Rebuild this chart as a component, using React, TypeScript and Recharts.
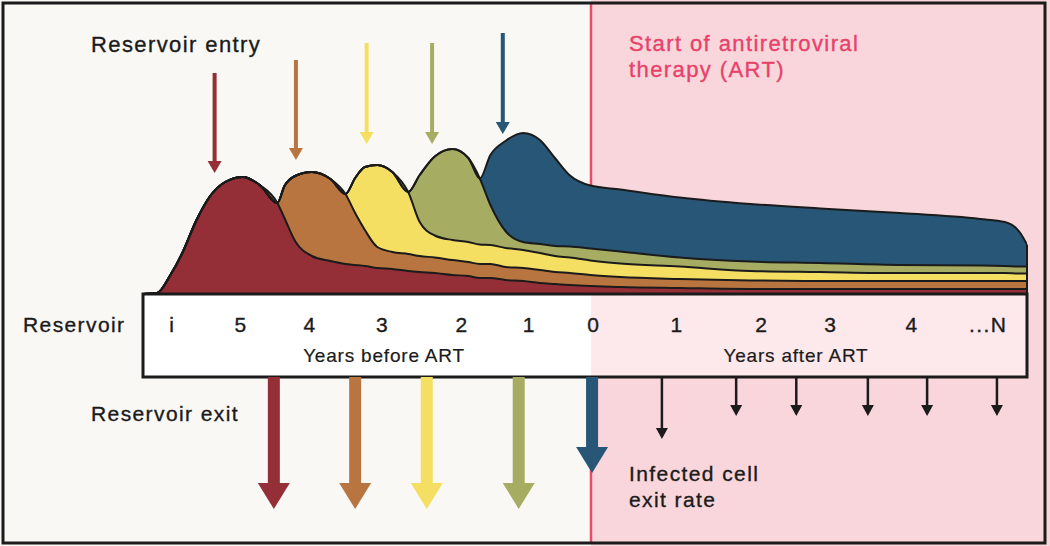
import React from 'react'
import { ComposedChart, Area, XAxis, YAxis } from 'recharts'

// position along the reservoir bar: 0 = left edge, 100 = right edge
const positions = [
  0, 1.6, 3.1, 4.5, 6.0, 7.6, 9.3, 11.3, 13.2, 15.2, 16.0, 17.2, 19.1, 21.2, 22.9, 24.0, 25.1, 26.5, 28.2, 30.0,
  31.3, 33.0, 35.0, 36.8, 38.1, 39.3, 41.0, 43.0, 44.9, 46.6, 48.3, 50.6, 54.0, 60.7, 68.7, 76.6, 85.6, 94.7, 97.5, 99.2, 100,
]

// size of each infected cell cohort (stacked, same units as the y axis)
const cohort5 = [
  0, 1, 19, 42, 73, 98, 112, 117, 109, 91, 76, 53, 38, 33, 30, 29, 28, 26, 25, 23,
  22, 21, 19, 18, 16, 16, 14, 13, 11, 10, 9, 8, 7, 6, 5, 5, 5, 5, 5, 5, 5,
]
const cohort4 = [
  0, 0, 0, 0, 0, 0, 0, 0, 0, 0, 32, 65, 84, 82, 70, 52, 36, 21, 17, 17,
  16, 15.5, 15, 14, 14, 14, 13, 13, 13, 12, 12, 11, 10, 9, 8.5, 8, 8, 8, 8, 8, 8,
]
const cohort3 = [
  0, 0, 0, 0, 0, 0, 0, 0, 0, 0, 0, 0, 0, 0, 0, 35, 63, 82, 80, 62,
  34, 22, 20, 20, 19.5, 19, 19, 18, 17, 16, 15.5, 14.5, 13.5, 12.5, 9.5, 9, 8, 8, 8, 7.5, 7.5,
]
const cohort2 = [
  0, 0, 0, 0, 0, 0, 0, 0, 0, 0, 0, 0, 0, 0, 0, 0, 0, 0, 0, 0,
  47, 79, 91, 84, 66, 40, 17, 8, 9, 10, 11, 12, 12, 9, 9.5, 9, 8, 7.5, 7, 7, 7,
]
const cohort1 = [
  0, 0, 0, 0, 0, 0, 0, 0, 0, 0, 0, 0, 0, 0, 0, 0, 0, 0, 0, 0,
  0, 0, 0, 0, 0, 50, 90, 109, 104, 88, 71, 63, 62, 60, 57.5, 54.5, 52, 46.5, 44, 34, 22,
]

const tickPositions = [3.3, 11.1, 18.9, 27.1, 36.1, 43.7, 51.0, 60.4, 70.0, 77.8, 87.0, 95.6]
const tickLabels = ['i', '5', '4', '3', '2', '1', '0', '1', '2', '3', '4', '...N']

const entryArrows = [8.1, 17.3, 25.3, 32.7, 40.7]
const exitArrows = [14.8, 24.0, 32.1, 42.5, 50.8]
const artExitArrows = [58.7, 67.1, 73.9, 82.0, 88.7, 96.6]

const COLORS = ['#942e37', '#b9753f', '#f5df63', '#a6ad63', '#275677']
const SERIES = ['c5', 'c4', 'c3', 'c2', 'c1']

const rows = positions.map((t, i) => ({
  t,
  c5: cohort5[i],
  c4: cohort4[i],
  c3: cohort3[i],
  c2: cohort2[i],
  c1: cohort1[i],
}))

// layout
const BAR_X = 143
const BAR_W = 884
const BASE_Y = 294
const BAR_H = 83
const PLOT_H = 220
const ART_X = 591
const px = (t: number) => BAR_X + (t * BAR_W) / 100

const FONT = '"Liberation Sans", Arial, sans-serif'
const INK = '#1b1b1b'

const textStyle = { fontFamily: FONT, fill: INK, letterSpacing: 1.4, stroke: INK, strokeWidth: 0.35 }
const pinkText = { ...textStyle, fill: '#e8416a', stroke: '#e8416a' }

function DownArrow({ x, y1, y2, shaft, head, headLen, color }: any) {
  return (
    <g fill={color}>
      <rect x={x - shaft / 2} y={y1} width={shaft} height={y2 - headLen - y1 + 1} />
      <polygon points={`${x - head / 2},${y2 - headLen} ${x + head / 2},${y2 - headLen} ${x},${y2}`} />
    </g>
  )
}

function Tick(props: any) {
  const { x, payload } = props
  const i = tickPositions.indexOf(payload.value)
  return (
    <text x={x} y={PLOT_H + 38} textAnchor="middle" fontSize={21} style={textStyle}>
      {tickLabels[i]}
    </text>
  )
}

const entryTops = [73, 60, 43, 43, 33]
const entryTips = [173, 160, 144, 144, 134]

export default function App() {
  const last = rows[rows.length - 1]
  const stackEnd = last.c5 + last.c4 + last.c3 + last.c2 + last.c1

  return (
    <div style={{ position: 'absolute', left: 0, top: 0, width: 1050, height: 546, overflow: 'hidden', background: '#fff' }}>
      <svg width={1050} height={546} style={{ position: 'absolute', left: 0, top: 0 }}>
        <rect x={0} y={0} width={1050} height={546} fill="#f9f8f4" />
        <rect x={ART_X} y={0} width={1050 - ART_X} height={546} fill="#f8d6db" />
        <line x1={ART_X} y1={3} x2={ART_X} y2={543} stroke="#ec4a6c" strokeWidth={2.5} />
        <rect x={BAR_X} y={BASE_Y} width={ART_X - BAR_X} height={BAR_H} fill="#ffffff" />
        <rect x={ART_X} y={BASE_Y} width={BAR_X + BAR_W - ART_X} height={BAR_H} fill="#fde8ec" />
      </svg>

      <div style={{ position: 'absolute', left: BAR_X, top: BASE_Y - PLOT_H }}>
        <ComposedChart width={BAR_W} height={PLOT_H + 60} data={rows} margin={{ top: 0, right: 0, bottom: 0, left: 0 }}>
          <XAxis
            dataKey="t"
            type="number"
            domain={[0, 100]}
            ticks={tickPositions}
            interval={0}
            height={60}
            axisLine={false}
            tickLine={false}
            tick={<Tick />}
          />
          <YAxis hide domain={[0, PLOT_H]} />
          {SERIES.map((key, i) => (
            <Area
              key={'fill-' + key}
              dataKey={key}
              stackId="fill"
              type="monotone"
              fill={COLORS[i]}
              fillOpacity={1}
              stroke="none"
              isAnimationActive={false}
              dot={false}
              activeDot={false}
            />
          ))}
          {SERIES.map((key) => (
            <Area
              key={'edge-' + key}
              dataKey={key}
              stackId="edge"
              type="monotone"
              fill="none"
              stroke={INK}
              strokeWidth={2}
              isAnimationActive={false}
              dot={false}
              activeDot={false}
            />
          ))}
        </ComposedChart>
      </div>

      <svg width={1050} height={546} style={{ position: 'absolute', left: 0, top: 0, pointerEvents: 'none' }}>
        <line x1={BAR_X + BAR_W} y1={BASE_Y - stackEnd} x2={BAR_X + BAR_W} y2={BASE_Y} stroke={INK} strokeWidth={2} />
        <rect x={BAR_X} y={BASE_Y} width={BAR_W} height={BAR_H} fill="none" stroke={INK} strokeWidth={3} />

        {entryArrows.map((t, i) => (
          <DownArrow key={'in' + i} x={px(t)} y1={entryTops[i]} y2={entryTips[i]} shaft={4} head={14} headLen={12} color={COLORS[i]} />
        ))}
        {exitArrows.map((t, i) => (
          <DownArrow
            key={'out' + i}
            x={px(t)}
            y1={BASE_Y + BAR_H}
            y2={i === 4 ? 473 : 509}
            shaft={12}
            head={32}
            headLen={26}
            color={COLORS[i]}
          />
        ))}
        {artExitArrows.map((t, i) => (
          <DownArrow key={'art' + i} x={px(t)} y1={BASE_Y + BAR_H} y2={i === 0 ? 439 : 416} shaft={2.5} head={12} headLen={11} color={INK} />
        ))}

        <text x={91} y={52} fontSize={22} style={textStyle}>Reservoir entry</text>
        <text x={629} y={51} fontSize={22} style={pinkText}>Start of antiretroviral</text>
        <text x={629} y={77} fontSize={22} style={pinkText}>therapy (ART)</text>
        <text x={23} y={332} fontSize={21} style={textStyle}>Reservoir</text>
        <text x={384} y={362} fontSize={19} textAnchor="middle" style={{ ...textStyle, letterSpacing: 0.8, strokeWidth: 0.2 }}>Years before ART</text>
        <text x={796} y={362} fontSize={19} textAnchor="middle" style={{ ...textStyle, letterSpacing: 0.8, strokeWidth: 0.2 }}>Years after ART</text>
        <text x={91} y={421} fontSize={21} style={textStyle}>Reservoir exit</text>
        <text x={629} y={481} fontSize={21} style={textStyle}>Infected cell</text>
        <text x={629} y={507} fontSize={21} style={textStyle}>exit rate</text>

        <rect x={3} y={3} width={1042} height={540} fill="none" stroke={INK} strokeWidth={3} />
      </svg>
    </div>
  )
}
